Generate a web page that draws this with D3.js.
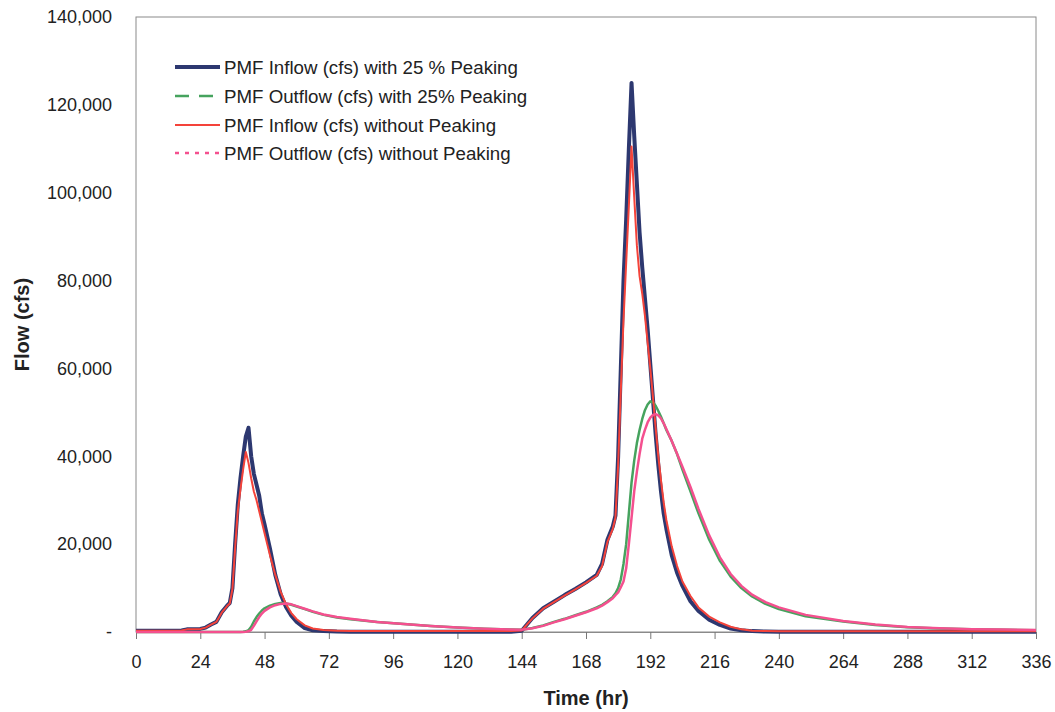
<!DOCTYPE html>
<html>
<head>
<meta charset="utf-8">
<script src="https://cdn.jsdelivr.net/npm/d3@7"></script>
<style>
    body { margin: 0; background: #fff; }
    svg { font-family: Arial, "Liberation Sans", sans-serif; }
</style>
</head>
<body>
<div id="chart"></div>
<script>
// hours of the hydrograph
const hours = [0, 6, 12, 17, 19,
    24, 26, 28, 30, 32,
    34, 35, 36, 37, 38,
    39, 40, 41, 42, 43,
    44, 45, 46, 47, 48,
    50, 52, 54, 56, 58,
    60, 63, 66, 70, 75,
    80, 90, 100, 110, 120,
    130, 140, 144, 148, 152,
    156, 160, 164, 168, 172,
    174, 176, 178, 179, 180,
    181, 182, 183, 184, 185,
    186, 187, 188, 189, 190,
    191, 192, 193, 194, 195,
    196, 197, 198, 200, 202,
    204, 207, 210, 214, 218,
    222, 226, 230, 235, 240,
    250, 264, 276, 288, 300,
    312, 324, 336];

const inflowPeak = [300, 300, 300, 350, 600,
    700, 1000, 1700, 2300, 4500,
    6000, 6600, 10000, 20000, 29000,
    35000, 40000, 44500, 46500, 40000,
    36000, 33500, 31000, 27000, 24500,
    19000, 13000, 8600, 5700, 3700,
    2300, 900, 400, 200, 100,
    80, 80, 80, 80, 80,
    80, 80, 300, 3200, 5400,
    6900, 8400, 9800, 11300, 13000,
    15500, 21000, 24000, 26500, 40000,
    60000, 80000, 94000, 110000, 125000,
    113000, 102000, 91000, 83000, 76000,
    69000, 61000, 53000, 45000, 38000,
    32000, 27000, 23500, 17500, 13500,
    10500, 7000, 4800, 2800, 1600,
    800, 400, 200, 100, 50,
    50, 50, 50, 50, 50,
    50, 50, 50];

const outflowPeak = [0, 0, 0, 0, 0,
    0, 0, 0, 0, 0,
    0, 0, 0, 0, 0,
    0, 50, 150, 400, 1200,
    2400, 3400, 4200, 4900, 5400,
    6000, 6400, 6600, 6500, 6200,
    5800, 5200, 4600, 3900, 3300,
    2900, 2300, 1800, 1350, 1000,
    750, 550, 500, 900, 1500,
    2300, 3000, 3800, 4600, 5600,
    6200, 7000, 8000, 8800, 10000,
    12000, 15500, 20000, 27000, 34000,
    39000, 43000, 46000, 48500, 50500,
    51800, 52500, 52300, 51500, 50300,
    49000, 47500, 46000, 43500, 40500,
    37000, 32000, 27000, 21000, 16200,
    12600, 10000, 8100, 6400, 5200,
    3600, 2400, 1600, 1100, 800,
    600, 500, 400];

const inflowNoPeak = [300, 300, 300, 350, 600,
    700, 1000, 1700, 2300, 4400,
    5900, 6500, 9800, 19000, 27500,
    32500, 37000, 41000, 38500, 35000,
    32000, 30000, 27500, 25000, 22500,
    17500, 13000, 9200, 6300, 4300,
    2900, 1500, 800, 450, 300,
    200, 200, 200, 200, 200,
    200, 200, 350, 3100, 5300,
    6800, 8300, 9700, 11200, 12800,
    15000, 20500, 23500, 26000, 38000,
    55000, 71000, 84000, 97000, 110500,
    99000, 88000, 81000, 77000, 72000,
    66000, 60000, 53500, 46500, 40000,
    34500, 29500, 25500, 19500, 15000,
    11500, 8200, 5600, 3500, 2200,
    1200, 600, 300, 200, 150,
    150, 150, 150, 150, 150,
    150, 150, 150];

const outflowNoPeak = [0, 0, 0, 0, 0,
    0, 0, 0, 0, 0,
    0, 0, 0, 0, 0,
    0, 0, 50, 150, 500,
    1400, 2400, 3400, 4200, 4800,
    5600, 6100, 6400, 6500, 6300,
    5900, 5300, 4700, 4000, 3400,
    3000, 2300, 1800, 1350, 1000,
    750, 550, 500, 850, 1400,
    2200, 2900, 3700, 4500, 5400,
    6000, 6800, 7700, 8400, 9000,
    10200, 11500, 14500, 20000, 26000,
    32000, 36500, 40500, 44000, 46000,
    47700, 48800, 49400, 49600, 49300,
    48600, 47500, 46200, 43500, 40600,
    37600, 33000, 28000, 22000, 17000,
    13200, 10500, 8500, 6800, 5600,
    3900, 2500, 1700, 1150, 850,
    650, 550, 450];

const seriesNames = [
    "PMF Inflow (cfs) with 25 % Peaking",
    "PMF Outflow (cfs) with 25% Peaking",
    "PMF Inflow (cfs) without Peaking",
    "PMF Outflow (cfs) without Peaking"
];

const xTicks = [0, 24, 48, 72, 96, 120, 144, 168, 192, 216, 240, 264, 288, 312, 336];
const yTicks = [0, 20000, 40000, 60000, 80000, 100000, 120000, 140000];

drawChart();

function drawChart() {
    const width = 1055;
    const height = 712;
    const margin = { top: 17, right: 19, bottom: 80, left: 136 };

    const svg = d3.select("#chart")
        .append("svg")
        .attr("width", width)
        .attr("height", height);

    svg.append("rect")
        .attr("width", width)
        .attr("height", height)
        .attr("fill", "#fff");

    const x = d3.scaleLinear()
        .domain([0, 336])
        .range([margin.left, width - margin.right]);

    const y = d3.scaleLinear()
        .domain([0, 140000])
        .range([height - margin.bottom, margin.top]);

    // plot frame
    svg.append("rect")
        .attr("x", x(0))
        .attr("y", y(140000))
        .attr("width", x(336) - x(0))
        .attr("height", y(0) - y(140000))
        .attr("fill", "none")
        .attr("stroke", "#8a8a8a")
        .attr("stroke-width", 1);

    const xAxis = svg.append("g")
        .attr("transform", `translate(0, ${y(0)})`)
        .call(d3.axisBottom(x).tickValues(xTicks).tickSize(7).tickPadding(16).tickFormat(d3.format("d")));

    xAxis.select(".domain").attr("stroke", "#8a8a8a");
    xAxis.selectAll(".tick line").attr("stroke", "#777");
    xAxis.selectAll("text")
        .attr("font-size", 18)
        .attr("font-family", "Arial, 'Liberation Sans', sans-serif")
        .attr("fill", "#222");

    const yAxis = svg.append("g")
        .attr("transform", `translate(${x(0)}, 0)`)
        .call(d3.axisLeft(y).tickValues(yTicks).tickSize(0).tickPadding(24)
            .tickFormat(d => d === 0 ? "-" : d3.format(",")(d)));

    yAxis.select(".domain").remove();
    yAxis.selectAll("text")
        .attr("font-size", 18)
        .attr("font-family", "Arial, 'Liberation Sans', sans-serif")
        .attr("fill", "#222");

    svg.append("text")
        .attr("x", (x(0) + x(336)) / 2)
        .attr("y", 705)
        .attr("text-anchor", "middle")
        .attr("font-size", 20)
        .attr("font-weight", "bold")
        .attr("fill", "#222")
        .text("Time (hr)");

    svg.append("text")
        .attr("transform", `translate(29, ${(y(0) + y(140000)) / 2}) rotate(-90)`)
        .attr("text-anchor", "middle")
        .attr("font-size", 20)
        .attr("font-weight", "bold")
        .attr("fill", "#222")
        .text("Flow (cfs)");

    const series = [
        { name: seriesNames[0], values: inflowPeak, color: "#2d3870", width: 4, dash: null },
        { name: seriesNames[1], values: outflowPeak, color: "#46a35e", width: 2.5, dash: "14,10" },
        { name: seriesNames[2], values: inflowNoPeak, color: "#f4433a", width: 2, dash: null },
        { name: seriesNames[3], values: outflowNoPeak, color: "#f4508f", width: 2.5, dash: "4,6" }
    ];

    const line = d3.line()
        .x((d, i) => x(hours[i]))
        .y(d => y(d));

    // the dashes disappear in the dense plotted lines, only the legend shows them
    svg.append("g")
        .selectAll("path")
        .data(series)
        .enter().append("path")
        .attr("d", d => line(d.values))
        .attr("fill", "none")
        .attr("stroke", d => d.color)
        .attr("stroke-width", d => d.width)
        .attr("stroke-linejoin", "round");

    drawLegend(svg, series);
}

function drawLegend(svg, series) {
    const rowY = [67, 96, 125, 153];

    const rows = svg.append("g")
        .selectAll("g")
        .data(series)
        .enter().append("g")
        .attr("transform", (d, i) => `translate(0, ${rowY[i]})`);

    rows.append("line")
        .attr("x1", 175)
        .attr("x2", 220)
        .attr("stroke", d => d.color)
        .attr("stroke-width", d => d.width)
        .attr("stroke-dasharray", d => d.dash);

    rows.append("text")
        .attr("x", 224)
        .attr("dy", "0.35em")
        .attr("font-size", 18.7)
        .attr("fill", "#222")
        .text(d => d.name);
}
</script>
</body>
</html>
